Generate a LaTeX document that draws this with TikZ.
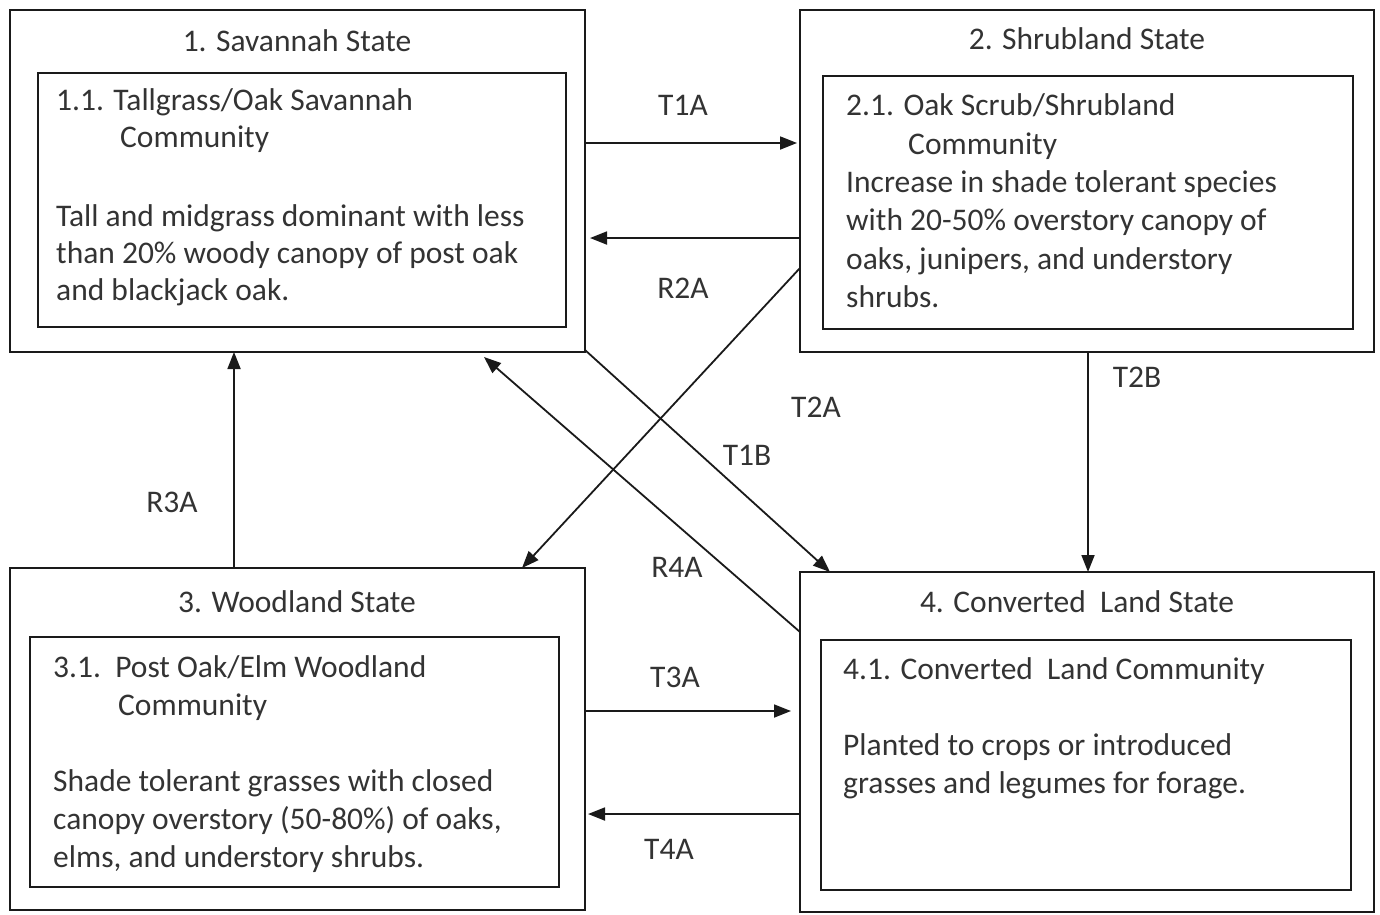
\documentclass[tikz,border=0pt]{standalone}
\usepackage{fontspec}
\setmainfont{Carlito}
\usetikzlibrary{arrows.meta,calc}
\definecolor{ink}{HTML}{333333}
\definecolor{edge}{HTML}{1A1A1A}
\tikzset{
  box/.style={draw=edge, line width=1.8pt, inner sep=0pt, outer sep=0pt},
  txt/.style={text=ink, font=\fontsize{31.5}{36}\selectfont, inner sep=0pt, anchor=base west},
  ttl/.style={text=ink, font=\fontsize{31.5}{36}\selectfont, inner sep=0pt, anchor=base},
  lbl/.style={text=ink, font=\fontsize{31.5}{36}\selectfont, inner sep=0pt, anchor=base},
  arr/.style={draw=edge, line width=1.8pt, -{Triangle[length=17pt,width=13pt]}}
}
\begin{document}
\begin{tikzpicture}[x=1pt,y=-1pt]
\useasboundingbox (0,0) rectangle (1380,914);
% outer state boxes
\node[box, minimum width=575pt, minimum height=342pt] (s1) at (297.5,181) {};
\node[box, minimum width=574pt, minimum height=342pt] (s2) at (1087,181) {};
\node[box, minimum width=575pt, minimum height=342pt] (s3) at (297.5,739) {};
\node[box, minimum width=574pt, minimum height=340pt] (s4) at (1087,742) {};
% inner community boxes
\node[box, minimum width=528pt, minimum height=254pt] (c1) at (302,200) {};
\node[box, minimum width=530pt, minimum height=253pt] (c2) at (1088,202.5) {};
\node[box, minimum width=529pt, minimum height=250pt] (c3) at (294.5,762) {};
\node[box, minimum width=530pt, minimum height=250pt] (c4) at (1086,765) {};
% titles
\node[ttl] (h1) at (297,51) {1. Savannah State};
\node[ttl] (h2) at (1087,49) {2. Shrubland State};
\node[ttl] (h3) at (297,612) {3. Woodland State};
\node[ttl] (h4) at (1077,612) {4. Converted\ \ Land State};
% community 1.1
\node[txt] (a1) at (56,110) {1.1. Tallgrass/Oak Savannah};
\node[txt] (a2) at (120,147) {Community};
\node[txt] (a3) at (56,226) {Tall and midgrass dominant with less};
\node[txt] (a4) at (56,263) {than 20\% woody canopy of post oak};
\node[txt] (a5) at (56,300) {and blackjack oak.};
% community 2.1
\node[txt] (b1) at (846,115) {2.1. Oak Scrub/Shrubland};
\node[txt] (b2) at (908,154) {Community};
\node[txt] (b3) at (846,192) {Increase in shade tolerant species};
\node[txt] (b4) at (846,230) {with 20-50\% overstory canopy of};
\node[txt] (b5) at (846,269) {oaks, junipers, and understory};
\node[txt] (b6) at (846,307) {shrubs.};
% community 3.1
\node[txt] (d1) at (53,677) {3.1.\ \ Post Oak/Elm Woodland};
\node[txt] (d2) at (118,715) {Community};
\node[txt] (d3) at (53,791) {Shade tolerant grasses with closed};
\node[txt] (d4) at (53,829) {canopy overstory (50-80\%) of oaks,};
\node[txt] (d5) at (53,867) {elms, and understory shrubs.};
% community 4.1
\node[txt] (e1) at (843,679) {4.1. Converted\ \ Land Community};
\node[txt] (e2) at (843,755) {Planted to crops or introduced};
\node[txt] (e3) at (843,793) {grasses and legumes for forage.};
% connectors
\draw[arr] ([yshift=-133pt]s1.north east) -- ([yshift=-133pt,xshift=-3pt]s2.north west);
\draw[arr] ([yshift=-228pt]s2.north west) -- ([yshift=-228pt,xshift=5pt]s1.north east);
\draw[arr] ([yshift=-258pt]s2.north west) -- ([xshift=512pt]s3.north west);
\draw[arr] ([yshift=2pt]s1.south east) -- ([xshift=30pt]s4.north west);
\draw[arr] ([yshift=-60pt]s4.north west) -- ([xshift=474pt,yshift=-5pt]s1.south west);
\draw[arr] ([xshift=288pt]s2.south west) -- ([xshift=288pt]s4.north west);
\draw[arr] ([xshift=224pt]s3.north west) -- ([xshift=224pt]s1.south west);
\draw[arr] ([yshift=-143pt]s3.north east) -- ([yshift=-139pt,xshift=-9pt]s4.north west);
\draw[arr] ([yshift=-242pt]s4.north west) -- ([yshift=-246pt,xshift=3pt]s3.north east);
% labels
\node[lbl] (l1) at (683,115) {T1A};
\node[lbl] (l2) at (683,298) {R2A};
\node[lbl] (l3) at (816,417) {T2A};
\node[lbl] (l4) at (747,465) {T1B};
\node[lbl] (l5) at (677,577) {R4A};
\node[lbl] (l6) at (1137,387) {T2B};
\node[lbl] (l7) at (172,512) {R3A};
\node[lbl] (l8) at (675,687) {T3A};
\node[lbl] (l9) at (669,859) {T4A};
\end{tikzpicture}
\end{document}
